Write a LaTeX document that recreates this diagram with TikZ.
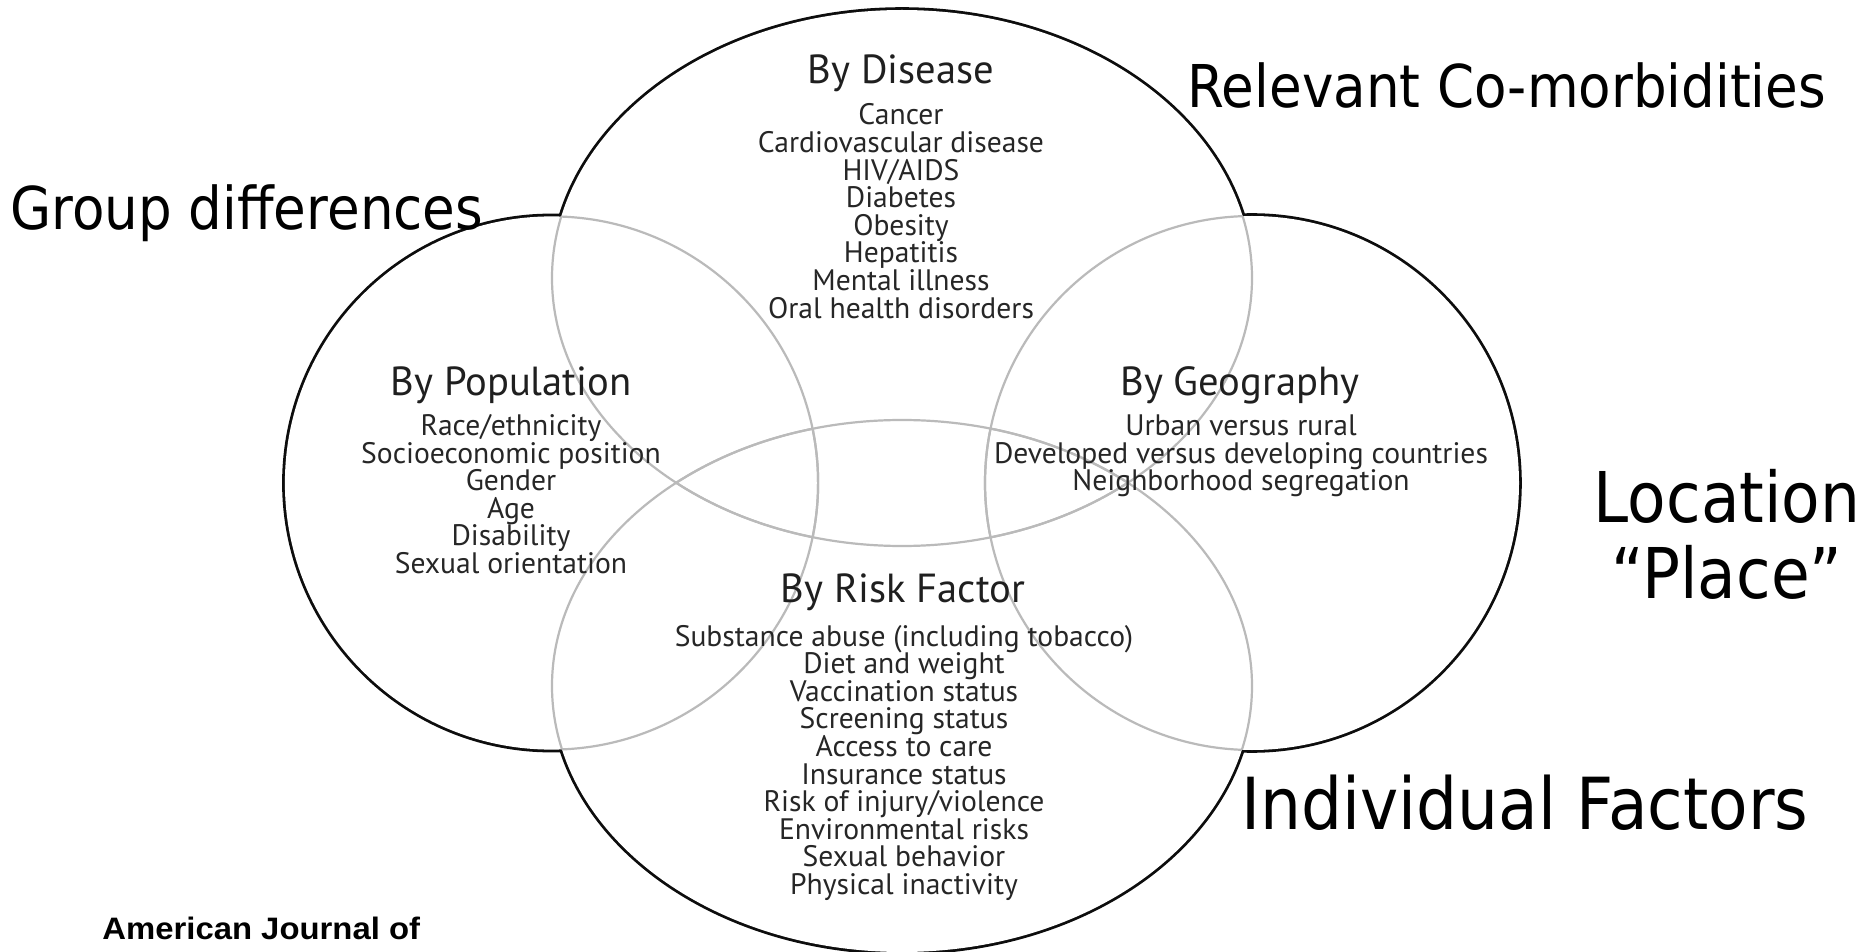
\documentclass[tikz,border=0pt]{standalone}
\usepackage{fontspec}
\newfontfamily\myriad{PT Sans}
\newfontfamily\verd[FakeStretch=0.9]{DejaVu Sans}
\newfontfamily\journalfont[FakeStretch=1.06]{Liberation Sans}

\begin{document}
\begin{tikzpicture}[
  x=0.5pt, y=-0.5pt,
  outline/.style={draw=black!95,line width=2.8pt},
  innerarc/.style={draw=black!27,line width=1.1pt},
  head/.style={font=\myriad\fontsize{20.3pt}{20.3pt}\selectfont,text=black!88,anchor=base,inner sep=0pt},
  item/.style={font=\myriad\fontsize{14.8pt}{14.8pt}\selectfont,text=black!85,anchor=base,inner sep=0pt},
  biglab/.style={font=\verd\fontsize{29.5pt}{29.5pt}\selectfont,anchor=base west,inner sep=0pt},
  hugelab/.style={font=\verd\fontsize{35pt}{35pt}\selectfont,anchor=base,inner sep=0pt},
  journal/.style={font=\journalfont\bfseries\fontsize{15.5pt}{15.5pt}\selectfont,anchor=base west,inner sep=0pt}
]
\useasboundingbox (0,0) rectangle (1876,952);
% disease, population, geography, risk factor
\def\vennlist{902/278/175/134, 551.5/483/133.3/133.3, 1252/483/133.5/133.5, 902/686/175/133}
% outer boundary: black, inner half hidden by the white fills
\foreach \cx/\cy/\rx/\ry in \vennlist
  \draw[outline] (\cx,\cy) ellipse [x radius=\rx pt, y radius=\ry pt];
\foreach \cx/\cy/\rx/\ry in \vennlist
  \fill[white] (\cx,\cy) ellipse [x radius=\rx pt, y radius=\ry pt];
% inner arcs: each ellipse where it lies inside another
\foreach \cx/\cy/\rx/\ry [count=\i] in \vennlist{
  \foreach \dx/\dy/\sx/\sy [count=\j] in \vennlist{
    \ifnum\i=\j\else
      \begin{scope}
        \clip (\dx,\dy) ellipse [x radius=\sx pt, y radius=\sy pt];
        \draw[innerarc] (\cx,\cy) ellipse [x radius=\rx pt, y radius=\ry pt];
      \end{scope}
    \fi
  }
}

% by disease
\node[head] (disHead) at (901,84) {By Disease};
\foreach \t [count=\i] in {Cancer,Cardiovascular disease,HIV/AIDS,Diabetes,Obesity,Hepatitis,Mental illness,Oral health disorders}
  \node[item] (dis\i) at (901,{125+(\i-1)*27.6}) {\t};

% by population
\node[head] (popHead) at (511,396) {By Population};
\foreach \t [count=\i] in {Race/ethnicity,Socioeconomic position,Gender,Age,Disability,Sexual orientation}
  \node[item] (pop\i) at (511,{435.5+(\i-1)*27.6}) {\t};

% by geography
\node[head] (geoHead) at (1240,396) {By Geography};
\foreach \t [count=\i] in {Urban versus rural,Developed versus developing countries,Neighborhood segregation}
  \node[item] (geo\i) at (1241,{435.5+(\i-1)*27.6}) {\t};

% by risk factor
\node[head] (riskHead) at (903,602) {By Risk Factor};
\foreach \t [count=\i] in {Substance abuse (including tobacco),Diet and weight,Vaccination status,Screening status,Access to care,Insurance status,Risk of injury/violence,Environmental risks,Sexual behavior,Physical inactivity}
  \node[item] (risk\i) at (904,{646+(\i-1)*27.6}) {\t};

% outside labels
\node[biglab] (grpLab) at (10,230) {Group differences};
\node[biglab] (comorbLab) at (1187,108) {Relevant Co-morbidities};
\node[hugelab] (locLab) at (1727,523) {Location};
\node[hugelab] (placeLab) at (1727,598) {“Place”};
\node[hugelab,anchor=base west,font=\verd\fontsize{35.9pt}{35.9pt}\selectfont] (indivLab) at (1241,829) {Individual Factors};
\node[journal] (journal) at (102,939) {American Journal of};
\end{tikzpicture}
\end{document}
